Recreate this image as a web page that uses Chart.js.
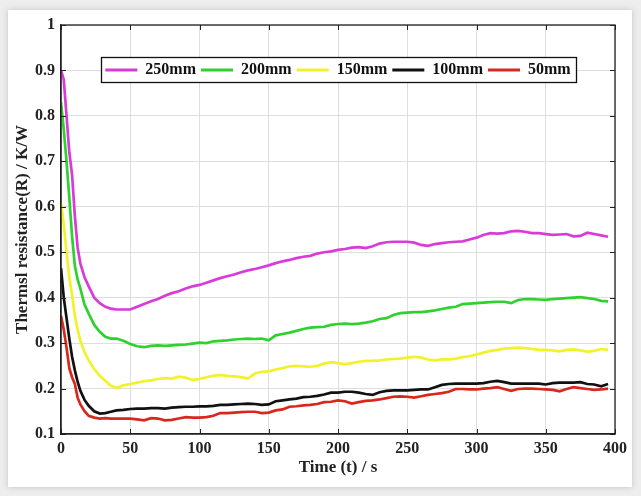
<!DOCTYPE html>
<html><head><meta charset="utf-8">
<script src="https://cdn.jsdelivr.net/npm/chart.js@4/dist/chart.umd.min.js"></script>
<style>
html,body{margin:0;padding:0;background:#ededed;width:641px;height:496px;overflow:hidden}
#card{position:absolute;left:8px;top:10px;width:624px;height:477px;background:#fff;box-shadow:0 0 6px rgba(0,0,0,0.18)}
#wrap{position:absolute;left:0;top:0;width:641px;height:496px}
</style></head><body>
<div id="card"></div>
<div id="wrap"><canvas id="c" width="641" height="496"></canvas></div>
<script>
// Time axis (s)
const time = [0,2,4,6,8,10,12,14,17,20,24,28,32,36,40,
  45,50,55,60,65,70,75,80,85,90,
  95,100,105,110,115,120,125,130,135,140,
  145,150,155,160,165,170,175,180,185,190,
  195,200,205,210,215,220,225,230,235,240,
  245,250,255,260,265,270,275,280,285,290,
  295,300,305,310,315,320,325,330,335,340,
  345,350,355,360,365,370,375,380,385,390,
  395];

const r250 = [0.90,0.88,0.80,0.72,0.67,0.58,0.51,0.475,0.445,0.425,0.40,0.388,0.38,0.376,0.374,
  0.374,0.374,0.380,0.386,0.392,0.397,0.404,0.410,0.414,0.420,
  0.425,0.428,0.433,0.438,0.443,0.447,0.451,0.456,0.460,0.463,
  0.467,0.471,0.476,0.480,0.483,0.487,0.490,0.492,0.497,0.500,
  0.502,0.505,0.507,0.510,0.511,0.509,0.513,0.519,0.522,0.523,
  0.523,0.523,0.521,0.516,0.514,0.518,0.520,0.522,0.523,0.524,
  0.528,0.532,0.538,0.542,0.541,0.542,0.546,0.547,0.545,0.542,
  0.542,0.540,0.538,0.539,0.540,0.535,0.536,0.543,0.540,0.537,
  0.534];

const r200 = [0.83,0.77,0.70,0.62,0.535,0.47,0.44,0.42,0.385,0.365,0.34,0.325,0.314,0.31,0.31,
  0.305,0.298,0.293,0.291,0.294,0.295,0.294,0.295,0.296,0.297,
  0.299,0.301,0.300,0.304,0.305,0.306,0.308,0.309,0.310,0.309,
  0.310,0.306,0.317,0.320,0.323,0.327,0.331,0.334,0.335,0.336,
  0.340,0.342,0.343,0.342,0.343,0.345,0.348,0.353,0.355,0.362,
  0.366,0.367,0.368,0.368,0.370,0.372,0.375,0.378,0.380,0.386,
  0.387,0.388,0.389,0.390,0.391,0.391,0.388,0.395,0.397,0.397,
  0.396,0.395,0.397,0.398,0.399,0.400,0.401,0.399,0.397,0.393,
  0.392];

const r150 = [0.61,0.56,0.50,0.445,0.405,0.36,0.33,0.305,0.28,0.262,0.243,0.228,0.217,0.206,0.201,
  0.207,0.210,0.213,0.216,0.218,0.221,0.223,0.222,0.226,0.224,
  0.219,0.221,0.225,0.228,0.230,0.228,0.227,0.225,0.222,0.233,
  0.237,0.238,0.242,0.245,0.249,0.250,0.249,0.248,0.250,0.255,
  0.258,0.256,0.254,0.256,0.259,0.261,0.261,0.262,0.264,0.265,
  0.266,0.268,0.270,0.268,0.264,0.262,0.264,0.264,0.266,0.269,
  0.271,0.275,0.279,0.283,0.285,0.288,0.289,0.290,0.289,0.287,
  0.285,0.285,0.284,0.282,0.285,0.286,0.284,0.281,0.283,0.287,
  0.285];

const r100 = [0.465,0.40,0.355,0.31,0.27,0.24,0.215,0.195,0.175,0.162,0.15,0.145,0.146,0.149,0.152,
  0.153,0.155,0.156,0.156,0.157,0.157,0.156,0.158,0.159,0.160,
  0.160,0.161,0.161,0.162,0.164,0.164,0.165,0.166,0.167,0.166,
  0.164,0.165,0.172,0.174,0.176,0.178,0.181,0.182,0.184,0.187,
  0.191,0.191,0.193,0.193,0.191,0.188,0.186,0.192,0.195,0.196,
  0.196,0.196,0.197,0.198,0.198,0.203,0.208,0.210,0.211,0.211,
  0.211,0.211,0.212,0.215,0.217,0.214,0.211,0.211,0.211,0.211,
  0.211,0.209,0.212,0.213,0.213,0.213,0.214,0.210,0.209,0.205,
  0.210];

const r50 = [0.36,0.33,0.29,0.245,0.225,0.21,0.18,0.165,0.15,0.14,0.136,0.134,0.135,0.134,0.134,
  0.134,0.134,0.132,0.130,0.135,0.134,0.130,0.131,0.134,0.137,
  0.136,0.136,0.137,0.140,0.146,0.146,0.147,0.148,0.149,0.149,
  0.146,0.147,0.152,0.154,0.160,0.161,0.163,0.164,0.166,0.170,
  0.171,0.174,0.172,0.167,0.170,0.173,0.174,0.176,0.179,0.182,
  0.183,0.182,0.180,0.183,0.186,0.188,0.190,0.193,0.199,0.199,
  0.198,0.198,0.200,0.201,0.203,0.199,0.195,0.199,0.200,0.200,
  0.199,0.198,0.197,0.194,0.199,0.203,0.201,0.199,0.197,0.198,
  0.200];

const seriesNames = ['250mm','200mm','150mm','100mm','50mm'];
const seriesColors = ['#d93bd9','#2fd12f','#f2f22a','#111111','#d8281e'];
const seriesValues = [r250, r200, r150, r100, r50];
const xTickLabels = ['0','50','100','150','200','250','300','350','400'];
const yTickLabels = ['0.1','0.2','0.3','0.4','0.5','0.6','0.7','0.8','0.9','1'];

const FONT = "'Liberation Serif','Times New Roman',serif";
const LEG_PAD = 5;

const datasets = seriesNames.map((n, i) => ({
  label: n,
  data: time.map((t, k) => ({x: t, y: seriesValues[i][k]})),
  borderColor: seriesColors[i],
  backgroundColor: seriesColors[i],
  borderWidth: 2.7,
  pointRadius: 0,
  tension: 0
}));

function patchLegend(chart) {
  const lg = chart.legend;
  if (!lg || lg._patched) return;
  lg._patched = true;
  lg.isHorizontal = () => true;
  const orig = lg.draw.bind(lg);
  lg.draw = function (area) { if (this._allow) orig(area); };
}

const framePlugin = {
  id: 'frame',
  afterInit(chart) { patchLegend(chart); },
  beforeUpdate(chart) { patchLegend(chart); },
  afterDatasetsDraw(chart) {
    const ctx = chart.ctx, a = chart.chartArea;
    const xs = chart.scales.x, ys = chart.scales.y;
    ctx.save();
    // inward tick marks
    ctx.strokeStyle = '#222'; ctx.lineWidth = 1;
    ctx.beginPath();
    xs.ticks.forEach(t => {
      const px = Math.round(xs.getPixelForValue(t.value)) + 0.5;
      ctx.moveTo(px, a.bottom); ctx.lineTo(px, a.bottom - 5);
      ctx.moveTo(px, a.top); ctx.lineTo(px, a.top + 5);
    });
    ys.ticks.forEach(t => {
      const py = Math.round(ys.getPixelForValue(t.value)) + 0.5;
      ctx.moveTo(a.left, py); ctx.lineTo(a.left + 5, py);
      ctx.moveTo(a.right, py); ctx.lineTo(a.right - 5, py);
    });
    ctx.stroke();
    // plot box
    ctx.strokeStyle = '#222'; ctx.lineWidth = 1.3;
    ctx.strokeRect(a.left, a.top, a.right - a.left, a.bottom - a.top);
    ctx.restore();

    // legend with white box and frame
    const lg = chart.legend;
    if (!lg || !lg.lineWidths) return;
    const W = lg.lineWidths[0];
    const L = a.left, R = a.right;
    const x0 = (L + LEG_PAD + R - W) / 2;
    const bx = Math.round(x0 - 4) + 0.5, bw = Math.round(W - LEG_PAD + 10);
    const by = 57.5, bh = 25;
    ctx.save();
    ctx.fillStyle = '#fff';
    ctx.fillRect(bx, by, bw, bh);
    ctx.strokeStyle = '#111'; ctx.lineWidth = 1.3;
    ctx.strokeRect(bx, by, bw, bh);
    ctx.restore();
    const old = {left: lg.left, right: lg.right, top: lg.top, bottom: lg.bottom};
    lg.left = L; lg.right = R; lg.top = by + bh / 2 - LEG_PAD - 8; lg.bottom = lg.top + 40;
    lg._allow = true;
    lg.draw(a);
    lg._allow = false;
    Object.assign(lg, old);
  }
};

new Chart(document.getElementById('c'), {
  type: 'line',
  data: { datasets },
  plugins: [framePlugin],
  options: {
    responsive: false,
    animation: false,
    layout: { padding: { left: 0, top: 25, right: 26, bottom: 0 } },
    plugins: {
      tooltip: { enabled: false },
      legend: {
        display: true,
        position: 'chartArea',
        align: 'center',
        labels: {
          color: '#111',
          font: { family: FONT, size: 16, weight: 'bold' },
          boxWidth: 32,
          boxHeight: 3,
          padding: LEG_PAD,
          generateLabels(chart) {
            return Chart.defaults.plugins.legend.labels.generateLabels(chart).map(it => {
              it.lineWidth = 0;
              it.fillStyle = it.strokeStyle;
              return it;
            });
          }
        }
      }
    },
    scales: {
      x: {
        type: 'linear',
        min: 0, max: 400,
        ticks: {
          stepSize: 50,
          color: '#222',
          padding: 5,
          font: { family: FONT, size: 16, weight: 'bold' },
          callback: (v) => xTickLabels[Math.round(v / 50)] ?? ''
        },
        grid: { color: '#dedede', lineWidth: 1, drawTicks: false },
        border: { display: true, color: '#222', width: 1.3 },
        title: {
          display: true, text: 'Time (t) / s', color: '#222',
          font: { family: FONT, size: 17, weight: 'bold' },
          padding: { top: 0, bottom: 18 }
        },
        afterFit(s) { s.height = 62; }
      },
      y: {
        type: 'linear',
        min: 0.1, max: 1.0,
        ticks: {
          stepSize: 0.1,
          color: '#222',
          padding: 6,
          font: { family: FONT, size: 16, weight: 'bold' },
          callback: (v) => yTickLabels[Math.round((v - 0.1) * 10)] ?? ''
        },
        grid: { color: '#dedede', lineWidth: 1, drawTicks: false },
        border: { display: true, color: '#222', width: 1.3 },
        title: {
          display: true, text: 'Thermsl resistance(R) / K/W', color: '#222',
          font: { family: FONT, size: 17, weight: 'bold' },
          padding: { top: 12, bottom: 0 }
        },
        afterFit(s) { s.width = 61; }
      }
    }
  }
});
</script>
</body></html>
